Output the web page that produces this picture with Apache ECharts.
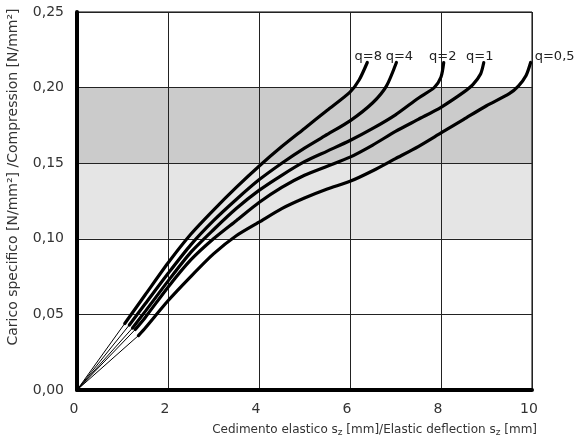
<!DOCTYPE html>
<html><head><meta charset="utf-8">
<script src="https://cdn.jsdelivr.net/npm/echarts@6/dist/echarts.min.js"></script>
<style>html,body{margin:0;padding:0;background:#fff}#c{width:579px;height:444px}</style>
</head><body><div id="c"></div>
<script>
// Curve names
const curveNames = ['q=8', 'q=4', 'q=2', 'q=1', 'q=0,5'];
// Curves: [deflection mm, compression N/mm²]
const q8 = [[1.05,0.044],[1.5,0.063],[2,0.084],[2.5,0.103],[3,0.119],[3.5,0.134],[4,0.148],[4.5,0.161],[5,0.173],[5.5,0.185],[6,0.197],[6.2,0.205],[6.38,0.2166]];
const q4 = [[1.15,0.043],[1.5,0.057],[2,0.077],[2.5,0.096],[3,0.112],[3.5,0.126],[4,0.139],[4.5,0.150],[5,0.160],[5.5,0.169],[6,0.178],[6.5,0.190],[6.8,0.201],[7.02,0.2166]];
const q2 = [[1.22,0.041],[1.5,0.052],[2,0.072],[2.5,0.091],[3,0.106],[3.5,0.12],[4,0.132],[4.5,0.142],[5,0.151],[5.5,0.158],[6,0.165],[6.5,0.173],[7,0.182],[7.5,0.193],[7.85,0.200],[8.0,0.207],[8.06,0.2166]];
const q1 = [[1.28,0.040],[1.5,0.048],[2,0.068],[2.5,0.086],[3,0.100],[3.5,0.112],[4,0.124],[4.5,0.134],[5,0.142],[5.5,0.148],[6,0.154],[6.5,0.162],[7,0.171],[7.5,0.179],[8,0.187],[8.5,0.197],[8.7,0.202],[8.87,0.209],[8.94,0.2166]];
const q05 = [[1.35,0.036],[1.5,0.041],[2,0.059],[2.5,0.075],[3,0.090],[3.5,0.102],[4,0.111],[4.5,0.120],[5,0.127],[5.5,0.133],[6,0.138],[6.5,0.145],[7,0.153],[7.5,0.161],[8,0.170],[8.5,0.179],[9,0.188],[9.5,0.196],[9.7,0.201],[9.87,0.208],[9.97,0.2166]];
// Shaded compression ranges
const bandLight = [0.10, 0.15];
const bandDark = [0.15, 0.20];
// Axis ranges / ticks
const xTicks = [0, 2, 4, 6, 8, 10];
const yTicks = [0, 0.05, 0.10, 0.15, 0.20, 0.25];

const curves = [q8, q4, q2, q1, q05];
const labelOffsets = [[1, 1], [3, 1], [-1, 1], [-4, 1], [24, 1]];
const FONT = '"DejaVu Sans", Verdana, sans-serif';

const chart = echarts.init(document.getElementById('c'), null, {renderer: 'canvas'});
const series = [];
series.push({
  type: 'line', data: [], silent: true,
  markArea: {
    silent: true,
    z: -1,
    data: [
      [{yAxis: bandLight[0], itemStyle: {color: '#e5e5e5'}}, {yAxis: bandLight[1]}],
      [{yAxis: bandDark[0], itemStyle: {color: '#cbcbcb'}}, {yAxis: bandDark[1]}]
    ]
  }
});
curves.forEach((c, k) => {
  // thin lead-in line from origin
  series.push({
    type: 'line', z: 5, symbol: 'none', silent: true,
    lineStyle: {color: '#000', width: 1},
    data: [[0, 0], c[0]]
  });
  series.push({
    type: 'line', z: 6, symbol: 'none', smooth: 0.25, silent: true,
    lineStyle: {color: '#000', width: 3.2, cap: 'round'},
    endLabel: {show: true, formatter: curveNames[k], align: 'center', verticalAlign: 'bottom',
      distance: 0, offset: labelOffsets[k], color: '#222', fontSize: 13, fontFamily: FONT},
    data: c
  });
});

chart.setOption({
  animation: false,
  grid: {left: 77, right: 47, top: 12, bottom: 54, show: true, borderColor: '#000', borderWidth: 1, backgroundColor: 'transparent'},
  xAxis: {
    type: 'value', min: xTicks[0], max: xTicks[xTicks.length - 1], interval: 2, z: 3,
    axisLine: {show: true, onZero: false, lineStyle: {color: '#000', width: 4}},
    axisTick: {show: false},
    splitLine: {show: true, lineStyle: {color: '#222', width: 1}},
    axisLabel: {color: '#333', fontSize: 14, fontFamily: FONT, margin: 12, padding: [0, 6, 0, 0]}
  },
  yAxis: {
    type: 'value', min: yTicks[0], max: yTicks[yTicks.length - 1], interval: 0.05, z: 3,
    axisLine: {show: true, onZero: false, lineStyle: {color: '#000', width: 4}},
    axisTick: {show: false},
    splitLine: {show: true, lineStyle: {color: '#222', width: 1}},
    axisLabel: {color: '#333', fontSize: 14, fontFamily: FONT, margin: 13,
      formatter: v => v.toFixed(2).replace('.', ',')}
  },
  graphic: [
    {
      type: 'text', right: 42, top: 424, silent: true,
      style: {
        text: 'Cedimento elastico s{sub|z} [mm]/Elastic deflection s{sub|z} [mm]',
        fill: '#333', font: '12px ' + FONT,
        rich: {sub: {fontSize: 9, fill: '#333', fontFamily: FONT, padding: [6, 0, 0, 0], verticalAlign: 'bottom'}}
      }
    },
    {
      type: 'text', x: 13, y: 177, rotation: Math.PI / 2, silent: true,
      style: {
        text: 'Carico specifico [N/mm²] /Compression [N/mm²]',
        fill: '#333', font: '14px ' + FONT, textAlign: 'center', textVerticalAlign: 'middle'
      }
    }
  ],
  series: series
});
</script></body></html>
